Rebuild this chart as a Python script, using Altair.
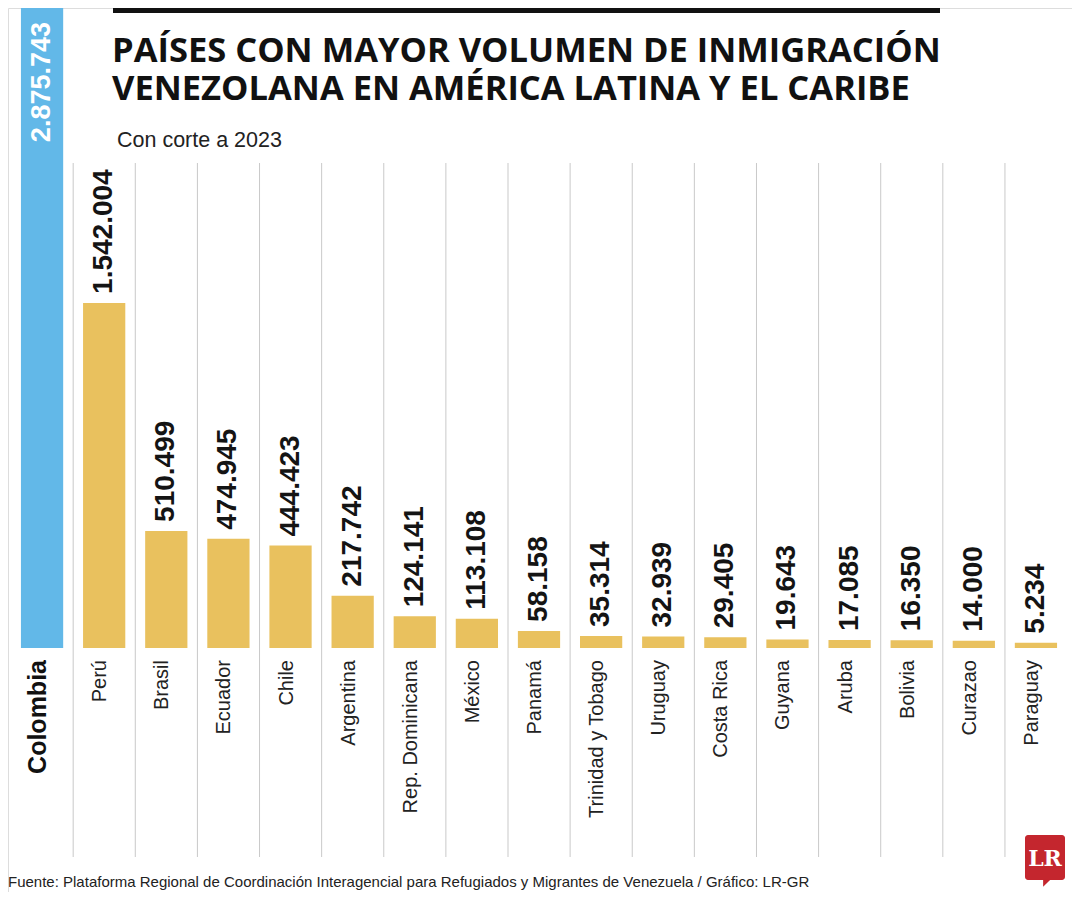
import altair as alt
import pandas as pd

paises = ["Colombia", "Perú", "Brasil", "Ecuador", "Chile", "Argentina",
          "Rep. Dominicana", "México", "Panamá", "Trinidad y Tobago", "Uruguay",
          "Costa Rica", "Guyana", "Aruba", "Bolivia", "Curazao", "Paraguay"]
valores = [2875743, 1542004, 510499, 474945, 444423, 217742, 124141, 113108,
           58158, 35314, 32939, 29405, 19643, 17085, 16350, 14000, 5234]
etiquetas = ["2.875.743", "1.542.004", "510.499", "474.945", "444.423", "217.742",
             "124.141", "113.108", "58.158", "35.314", "32.939", "29.405",
             "19.643", "17.085", "16.350", "14.000", "5.234"]
grupo = ["Colombia"] + ["Resto"] * (len(paises) - 1)

titulo = ["PAÍSES CON MAYOR VOLUMEN DE INMIGRACIÓN",
          "VENEZOLANA EN AMÉRICA LATINA Y EL CARIBE"]
subtitulo = "Con corte a 2023"
fuente = ("Fuente: Plataforma Regional de Coordinación Interagencial para "
          "Refugiados y Migrantes de Venezuela / Gráfico: LR-GR")

AZUL = "#62B8E8"
ORO = "#E9C15E"
SANS = "Liberation Sans, Arial, sans-serif"
BASE = -19000

df = pd.DataFrame({"pais": paises, "valor": valores, "etiqueta": etiquetas, "grupo": grupo})
dummy = pd.DataFrame({"a": [0]})

xs = alt.Scale(range=[3, 1059], paddingInner=0.32, paddingOuter=0.16)
X = alt.X("pais:N", sort=paises, axis=None, scale=xs)
ys = alt.Scale(domain=[BASE, max(valores)], range=[640, 0])
Y = alt.Y("valor:Q", axis=None, scale=ys)

base = alt.Chart(df)

grid = base.transform_filter(alt.datum.pais != paises[-1]).mark_rule(
    color="#c9c9c9", strokeWidth=1, xOffset=10
).encode(
    x=alt.X("pais:N", sort=paises, axis=None, scale=xs, bandPosition=1),
    y=alt.value(155), y2=alt.value(849)
)

bars = base.mark_bar().encode(
    x=X, y=Y, y2=alt.Y2Datum(BASE),
    color=alt.Color("grupo:N", scale=alt.Scale(domain=["Colombia", "Resto"], range=[AZUL, ORO]), legend=None)
)

val_otros = base.transform_filter(alt.datum.grupo != "Colombia").mark_text(
    angle=270, align="left", baseline="middle", dx=9,
    font=SANS, fontSize=28, fontWeight="bold", color="#141414"
).encode(x=X, y=Y, text="etiqueta:N")

val_col = base.transform_filter(alt.datum.grupo == "Colombia").mark_text(
    angle=270, align="right", baseline="middle", dx=-14,
    font=SANS, fontSize=27, fontWeight="bold", color="white"
).encode(x=X, y=Y, text="etiqueta:N")

cat_otros = base.transform_filter(alt.datum.grupo != "Colombia").mark_text(
    angle=270, align="right", baseline="middle", dy=-4,
    font=SANS, fontSize=20, color="#222222"
).encode(x=X, y=alt.value(652), text="pais:N")

cat_col = base.transform_filter(alt.datum.grupo == "Colombia").mark_text(
    angle=270, align="right", baseline="middle", dy=-4,
    font=SANS, fontSize=25, fontWeight="bold", color="#111111"
).encode(x=X, y=alt.value(652), text="pais:N")

deco = alt.Chart(dummy)

barra_negra = deco.mark_rect(color="#111111").encode(
    x=alt.value(105), x2=alt.value(932), y=alt.value(0), y2=alt.value(5))

t1 = deco.mark_text(align="left", baseline="alphabetic", font="Open Sans",
                    fontSize=34.5, fontWeight="bold", color="#111111", text=titulo[0]).encode(
    x=alt.value(104), y=alt.value(54))
t2 = deco.mark_text(align="left", baseline="alphabetic", font="Open Sans",
                    fontSize=34.5, fontWeight="bold", color="#111111", text=titulo[1]).encode(
    x=alt.value(104), y=alt.value(92))
sub = deco.mark_text(align="left", baseline="alphabetic", font=SANS,
                     fontSize=21.5, color="#222222", text=subtitulo).encode(
    x=alt.value(109), y=alt.value(139))
foot = deco.mark_text(align="left", baseline="alphabetic", font=SANS,
                      fontSize=15, color="#222222", text=fuente).encode(
    x=alt.value(0), y=alt.value(879))

logo = deco.mark_rect(color="#C4262E", cornerRadius=3).encode(
    x=alt.value(1017), x2=alt.value(1057), y=alt.value(827), y2=alt.value(872))
cola = deco.mark_point(shape="M -1 -1 L 1 -1 L -1 1 Z", filled=True, color="#C4262E",
                       size=60, opacity=1).encode(x=alt.value(1039), y=alt.value(875))
logo_txt = deco.mark_text(align="center", baseline="middle", font="DejaVu Serif",
                          fontSize=22, fontWeight="bold", color="white", text="LR").encode(
    x=alt.value(1037), y=alt.value(851))

chart = alt.layer(
    grid, bars, val_otros, val_col, cat_otros, cat_col,
    barra_negra, t1, t2, sub, foot, logo, cola, logo_txt
).properties(
    width=1064, height=884, padding=0, autosize=alt.AutoSizeParams(type="none")
).configure_view(stroke=None).configure(background="white")

chart.save("out.html", embed_options={"renderer": "svg", "actions": False})
